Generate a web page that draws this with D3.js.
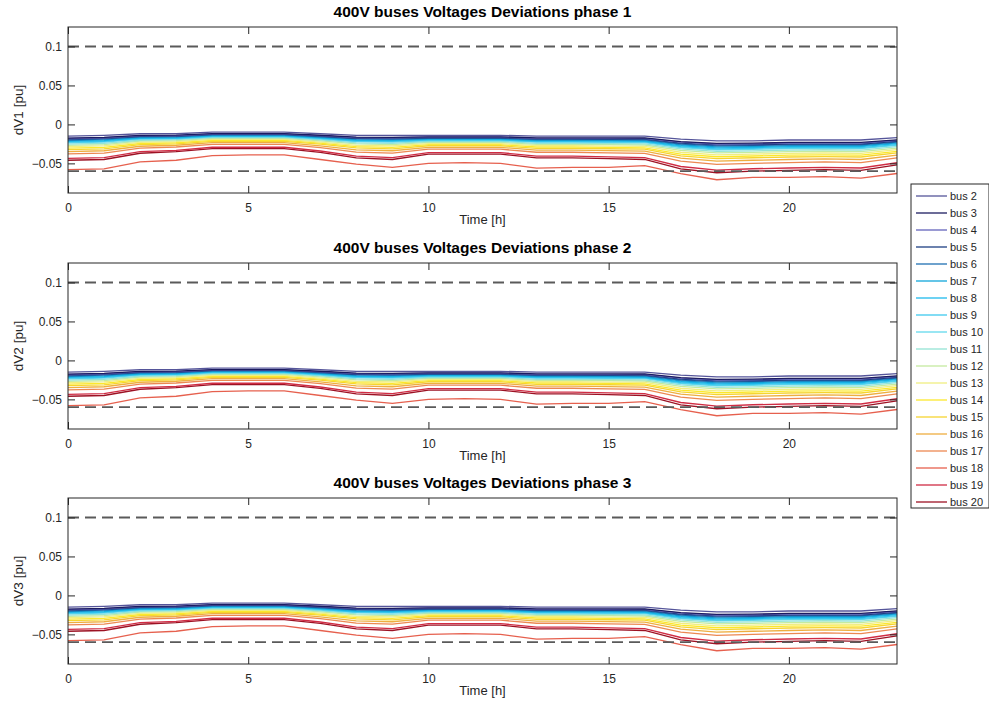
<!DOCTYPE html>
<html>
<head>
<meta charset="utf-8">
<script src="https://cdn.jsdelivr.net/npm/d3@7.9.0/dist/d3.min.js"></script>
<style>
  body { margin: 0; background: #fff; }
  svg { display: block; font-family: "Liberation Sans", Arial, Helvetica, sans-serif; }
  .tick text { fill: #262626; font-size: 12px; }
  .tick line { stroke: #262626; }
</style>
</head>
<body>
<svg id="chart" width="989" height="713"></svg>
<script>
// hours of the day (x axis)
const hours = [0, 1, 2, 3, 4, 5, 6, 7, 8, 9, 10, 11, 12, 13, 14, 15, 16, 17, 18, 19, 20, 21, 22, 23];
const xTicks = [0, 5, 10, 15, 20];
const yTicks = [-0.05, 0, 0.05, 0.1];
const limits = [0.1, -0.06];   // dashed voltage limits

const busNames = ['bus 2', 'bus 3', 'bus 4', 'bus 5', 'bus 6', 'bus 7', 'bus 8', 'bus 9', 'bus 10',
  'bus 11', 'bus 12', 'bus 13', 'bus 14', 'bus 15', 'bus 16', 'bus 17', 'bus 18', 'bus 19', 'bus 20'];
const busColors = ['#55559a', '#1c1c60', '#6464bc', '#1c3e82', '#2070b2', '#10a6da', '#1ebaec', '#3ecaee',
  '#62d8ec', '#94e4d4', '#c4eaa0', '#f0ee80', '#fce82c', '#f6d430', '#eeae40', '#ec8852', '#e6604e',
  '#d02c44', '#9c1224'];

// voltage deviation per bus [pu], hours 0..23
const bus2  = [-.0150,-.0140,-.0120,-.0120,-.0100,-.0100,-.0100,-.0120,-.0140,-.0140,-.0140,-.0140,-.0140,-.0150,-.0150,-.0150,-.0150,-.0190,-.0210,-.0210,-.0200,-.0200,-.0200,-.0170];
const bus3  = [-.0175,-.0165,-.0140,-.0138,-.0117,-.0117,-.0117,-.0139,-.0163,-.0165,-.0159,-.0159,-.0159,-.0172,-.0172,-.0173,-.0174,-.0220,-.0243,-.0241,-.0231,-.0230,-.0231,-.0198];
const bus4  = [-.0181,-.0171,-.0145,-.0143,-.0121,-.0121,-.0121,-.0144,-.0169,-.0171,-.0164,-.0164,-.0164,-.0178,-.0178,-.0179,-.0180,-.0228,-.0251,-.0249,-.0239,-.0238,-.0239,-.0205];
const bus5  = [-.0190,-.0180,-.0153,-.0150,-.0127,-.0127,-.0127,-.0151,-.0178,-.0180,-.0171,-.0171,-.0171,-.0186,-.0186,-.0188,-.0189,-.0239,-.0263,-.0261,-.0251,-.0249,-.0251,-.0216];
const bus6  = [-.0200,-.0190,-.0160,-.0157,-.0134,-.0134,-.0134,-.0158,-.0186,-.0190,-.0178,-.0178,-.0178,-.0195,-.0195,-.0196,-.0198,-.0251,-.0276,-.0272,-.0262,-.0261,-.0262,-.0226];
const bus7  = [-.0209,-.0199,-.0168,-.0164,-.0140,-.0140,-.0140,-.0166,-.0195,-.0199,-.0186,-.0186,-.0186,-.0203,-.0203,-.0205,-.0207,-.0262,-.0288,-.0284,-.0274,-.0272,-.0274,-.0237];
const bus8  = [-.0218,-.0208,-.0175,-.0171,-.0146,-.0146,-.0146,-.0173,-.0204,-.0208,-.0193,-.0193,-.0193,-.0212,-.0212,-.0214,-.0216,-.0274,-.0300,-.0296,-.0286,-.0284,-.0286,-.0247];
const bus9  = [-.0228,-.0218,-.0183,-.0178,-.0153,-.0153,-.0153,-.0180,-.0213,-.0218,-.0200,-.0200,-.0200,-.0220,-.0220,-.0223,-.0225,-.0285,-.0313,-.0308,-.0298,-.0295,-.0298,-.0258];
const bus10 = [-.0237,-.0227,-.0190,-.0184,-.0159,-.0159,-.0159,-.0187,-.0221,-.0227,-.0207,-.0207,-.0207,-.0228,-.0228,-.0231,-.0234,-.0296,-.0325,-.0319,-.0309,-.0306,-.0309,-.0268];
const bus11 = [-.0252,-.0242,-.0203,-.0196,-.0169,-.0169,-.0169,-.0199,-.0236,-.0242,-.0219,-.0219,-.0219,-.0242,-.0242,-.0246,-.0249,-.0315,-.0345,-.0339,-.0329,-.0325,-.0329,-.0286];
const bus12 = [-.0268,-.0258,-.0215,-.0207,-.0180,-.0180,-.0180,-.0211,-.0250,-.0258,-.0231,-.0231,-.0231,-.0256,-.0256,-.0260,-.0264,-.0334,-.0366,-.0358,-.0348,-.0344,-.0348,-.0303];
const bus13 = [-.0286,-.0276,-.0230,-.0221,-.0192,-.0192,-.0192,-.0226,-.0268,-.0276,-.0246,-.0246,-.0246,-.0273,-.0273,-.0278,-.0282,-.0357,-.0390,-.0382,-.0372,-.0367,-.0372,-.0324];
const bus14 = [-.0305,-.0295,-.0245,-.0235,-.0205,-.0205,-.0205,-.0240,-.0285,-.0295,-.0260,-.0260,-.0260,-.0290,-.0290,-.0295,-.0300,-.0380,-.0415,-.0405,-.0395,-.0390,-.0395,-.0345];
const bus15 = [-.0324,-.0314,-.0260,-.0249,-.0218,-.0218,-.0218,-.0254,-.0302,-.0314,-.0274,-.0274,-.0274,-.0307,-.0307,-.0312,-.0318,-.0403,-.0440,-.0428,-.0418,-.0413,-.0418,-.0366];
const bus16 = [-.0348,-.0338,-.0280,-.0267,-.0234,-.0234,-.0234,-.0274,-.0326,-.0338,-.0294,-.0294,-.0294,-.0329,-.0329,-.0336,-.0342,-.0433,-.0472,-.0460,-.0450,-.0443,-.0450,-.0394];
const bus17 = [-.0379,-.0369,-.0305,-.0290,-.0255,-.0255,-.0255,-.0298,-.0355,-.0369,-.0318,-.0318,-.0318,-.0357,-.0357,-.0365,-.0372,-.0471,-.0513,-.0499,-.0489,-.0481,-.0489,-.0429];
const bus18 = [-.058,-.057,-.048,-.046,-.040,-.039,-.039,-.045,-.051,-.055,-.050,-.049,-.050,-.056,-.055,-.055,-.053,-.063,-.071,-.068,-.068,-.067,-.069,-.063];
const bus19 = [-.0435,-.0425,-.0350,-.0332,-.0293,-.0293,-.0293,-.0341,-.0407,-.0425,-.0361,-.0361,-.0361,-.0408,-.0408,-.0417,-.0426,-.0540,-.0587,-.0569,-.0559,-.0550,-.0559,-.0492];
const bus20 = [-.046,-.045,-.037,-.035,-.031,-.031,-.031,-.036,-.043,-.045,-.038,-.038,-.038,-.043,-.043,-.044,-.045,-.057,-.062,-.060,-.059,-.058,-.059,-.052];

const busValues = [bus2, bus3, bus4, bus5, bus6, bus7, bus8, bus9, bus10, bus11, bus12, bus13,
  bus14, bus15, bus16, bus17, bus18, bus19, bus20];

// the three phases show the same profiles
const phaseTitles = ['400V buses Voltages Deviations phase 1', '400V buses Voltages Deviations phase 2',
  '400V buses Voltages Deviations phase 3'];
const phaseLabels = ['dV1 [pu]', 'dV2 [pu]', 'dV3 [pu]'];
const phaseData = [busValues, busValues, busValues];

const svg = d3.select('#chart');
const left = 68, right = 897, ph = 166;
const tops = [27, 263, 498];
const ink = '#262626';

const x = d3.scaleLinear().domain([0, 23]).range([left, right]);
const line = (y) => d3.line().x((d, i) => x(hours[i])).y(d => y(d));

phaseData.forEach((series, p) => {
  const top = tops[p], bottom = top + ph;
  const y = d3.scaleLinear().domain([-0.088, 0.125]).range([bottom, top]);
  const g = svg.append('g');

  // lines (drawn so that bus 2 ends up on top)
  g.append('g').selectAll('path')
    .data(series.map((v, i) => ({ v, i })).reverse())
    .join('path')
    .attr('d', d => line(y)(d.v))
    .attr('fill', 'none')
    .attr('stroke', d => busColors[d.i])
    .attr('stroke-width', 1.3);

  // limit lines
  g.selectAll('line.lim')
    .data(limits)
    .join('line')
    .attr('class', 'lim')
    .attr('x1', x(0)).attr('x2', x(23))
    .attr('y1', d => y(d)).attr('y2', d => y(d))
    .attr('stroke', '#5a5a5a')
    .attr('stroke-width', 1.8)
    .attr('stroke-dasharray', '11,6');

  // axes (ticks inward, mirrored)
  g.append('g').attr('transform', `translate(0,${bottom})`)
    .call(d3.axisBottom(x).tickValues(xTicks).tickSize(-7).tickPadding(10).tickFormat(d3.format('d')));
  g.append('g').attr('transform', `translate(0,${top})`)
    .call(d3.axisTop(x).tickValues(xTicks).tickSize(-7).tickFormat(''));
  g.append('g').attr('transform', `translate(${left},0)`)
    .call(d3.axisLeft(y).tickValues(yTicks).tickSize(-7).tickPadding(6).tickFormat(d => d3.format('')(+d.toFixed(2))));
  g.append('g').attr('transform', `translate(${right},0)`)
    .call(d3.axisRight(y).tickValues(yTicks).tickSize(-7).tickFormat(''));
  g.selectAll('.domain').remove();

  g.append('rect')
    .attr('x', left).attr('y', top)
    .attr('width', right - left).attr('height', ph)
    .attr('fill', 'none').attr('stroke', ink).attr('stroke-width', 1);

  // texts
  g.append('text')
    .attr('x', (left + right) / 2).attr('y', top - 10)
    .attr('text-anchor', 'middle')
    .attr('font-size', 15.5).attr('font-weight', 'bold').attr('fill', '#000')
    .text(phaseTitles[p]);
  g.append('text')
    .attr('x', (left + right) / 2).attr('y', bottom + 31)
    .attr('text-anchor', 'middle')
    .attr('font-size', 13).attr('fill', ink)
    .text('Time [h]');
  g.append('text')
    .attr('transform', `translate(23,${(top + bottom) / 2}) rotate(-90)`)
    .attr('text-anchor', 'middle')
    .attr('font-size', 13.5).attr('fill', ink)
    .text(phaseLabels[p]);
});

// legend
const lg = svg.append('g');
const lgTop = 184, lgLeft = 911, rowH = 17;
lg.append('rect')
  .attr('x', lgLeft).attr('y', lgTop)
  .attr('width', 78).attr('height', busNames.length * rowH + 1)
  .attr('fill', '#fff').attr('stroke', ink).attr('stroke-width', 1);
const rows = lg.selectAll('g.row')
  .data(busNames)
  .join('g')
  .attr('class', 'row')
  .attr('transform', (d, i) => `translate(0,${lgTop + 12 + i * rowH})`);
rows.append('line')
  .attr('x1', lgLeft + 5).attr('x2', lgLeft + 36)
  .attr('stroke', (d, i) => busColors[i])
  .attr('stroke-width', 1.3);
rows.append('text')
  .attr('x', lgLeft + 39).attr('y', 4)
  .attr('font-size', 11).attr('fill', ink)
  .text(d => d);
</script>
</body>
</html>
